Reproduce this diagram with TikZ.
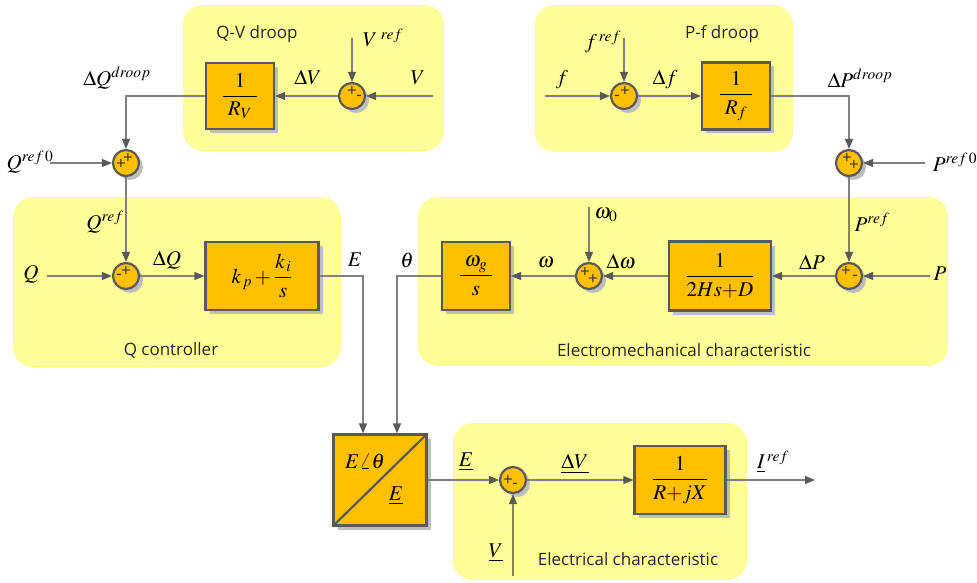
\documentclass[tikz,border=0pt]{standalone}
\usepackage{amsmath}
\usepackage{mathptmx}
\usepackage[no-math]{fontspec}
\setsansfont{Open Sans}
\usetikzlibrary{calc,arrows.meta,shadows}
\definecolor{grp}{RGB}{255,255,153}
\definecolor{blk}{RGB}{255,192,0}
\definecolor{bdr}{RGB}{89,89,89}
\definecolor{wire}{RGB}{128,128,128}
\definecolor{shd}{RGB}{190,190,190}
\tikzset{
  jgrp/.style={fill=grp,rounded corners=20pt},
  jblk/.style={draw=bdr,fill=blk,line width=2.2pt,inner sep=0pt,
    font=\fontsize{21}{23}\selectfont,
    drop shadow={shadow xshift=4pt,shadow yshift=-4pt,fill=shd,opacity=1}},
  jsum/.style={jblk,circle,minimum size=26pt},
  jsig/.style={wire,line width=1.4pt,-{Triangle[length=10pt,width=8pt,color=bdr]}},
  jlbl/.style={font=\fontsize{21}{23}\selectfont,inner sep=0pt},
  jsgn/.style={font=\sffamily\fontsize{17}{17}\selectfont,text=bdr!60!black,inner sep=0pt},
  jttl/.style={font=\sffamily\fontsize{17}{19}\selectfont,text=black!85,inner sep=0pt},
}

\begin{document}
\begin{tikzpicture}[x=1pt,y=-1pt]
  \useasboundingbox (0,0) rectangle (977,583);
  % groups
  \foreach \xa/\ya/\xb/\yb in {183/5/444/151,535/5/793/152,13/197/341/367,418/197/948/366,453/423/747/580}
    {\fill[jgrp] (\xa,\ya) rectangle (\xb,\yb);}
  \node[jttl] (tQV) at (257,34) {Q-V droop};
  \node[jttl] (tPf) at (722,34) {P-f droop};
  \node[jttl] (tQc) at (171,350) {Q controller};
  \node[jttl] (tEm) at (684,350) {Electromechanical characteristic};
  \node[jttl] (tEl) at (628,559) {Electrical characteristic};
  % blocks
  \node[jblk,minimum width=68,minimum height=66] (bRV) at (240,96) {$\dfrac{1}{\;R_V\;}$};
  \node[jblk,minimum width=68,minimum height=67] (bRf) at (736,96) {$\dfrac{1}{\;R_f\;}$};
  \node[jblk,minimum width=113,minimum height=68] (bPI) at (262,276) {$k_{\,p}+\dfrac{k_{\,i}}{s}$};
  \node[jblk,minimum width=68,minimum height=68] (bOm) at (476,276) {$\dfrac{\;\omega_g\;}{s}$};
  \node[jblk,minimum width=102,minimum height=69] (bIn) at (720,276) {$\dfrac{1}{2Hs{+}D}$};
  \node[jblk,minimum width=93,minimum height=91] (bPol) at (380,480) {\phantom{E}};
  \node[jblk,minimum width=91,minimum height=68] (bZ) at (680,480) {$\dfrac{1}{R{+}jX}$};
  \draw[bdr,line width=2.2pt] (bPol.south west) -- (bPol.north east);
  \node[jlbl] (lEth) at (365,461) {$E\angle\theta$};
  \node[jlbl] (lEp) at (396,496) {$\underline{E}$};
  % sums
  \node[jsum] (sV) at (352,96) {};
  \node[jsum] (sf) at (624,96) {};
  \node[jsum] (sQ0) at (126,163) {};
  \node[jsum] (sP0) at (849,163) {};
  \node[jsum] (sQ) at (126,276) {};
  \node[jsum] (sW) at (589,276) {};
  \node[jsum] (sP) at (849,276) {};
  \node[jsum] (sE) at (513,480) {};
  \foreach \s/\dx/\dy/\t in {sV/0/-5/+,sV/7/2/-,sf/1/-5/+,sf/-7/2/-,sQ0/2/-5/+,sQ0/-5/1/+,
      sP0/-2/-5/+,sP0/5/2/+,sQ/0/-5/+,sQ/-7/1/-,sW/-4/-4/+,sW/4/3/+,sP/-3/-5/+,sP/6/2/-,
      sE/-5/0/+,sE/2/6/-}
    {\node[jsgn] (g-\s-\dx) at ($(\s)+(\dx,\dy)$) {\t};}
  % free ends
  \coordinate (inV) at (433,96);
  \coordinate (inVr) at (352,38);
  \coordinate (inf) at (545,96);
  \coordinate (infr) at (624,38);
  \coordinate (inQ0) at (50,163);
  \coordinate (inP0) at (925,163);
  \coordinate (inQ) at (47,276);
  \coordinate (inW0) at (589,207);
  \coordinate (inP) at (930,276);
  \coordinate (inVb) at (513,576);
  \coordinate (outI) at (815,480);
  % connectors
  \draw[jsig] (inV) -- (sV);
  \draw[jsig] (inVr) -- (sV);
  \draw[jsig] (sV) -- (bRV);
  \draw[jsig] (bRV.west) -| (sQ0);
  \draw[jsig] (inQ0) -- (sQ0);
  \draw[jsig] (sQ0) -- (sQ);
  \draw[jsig] (inQ) -- (sQ);
  \draw[jsig] (sQ) -- (bPI);
  \draw[jsig] (inf) -- (sf);
  \draw[jsig] (infr) -- (sf);
  \draw[jsig] (sf) -- (bRf);
  \draw[jsig] (bRf.east) -| (sP0);
  \draw[jsig] (inP0) -- (sP0);
  \draw[jsig] (sP0) -- (sP);
  \draw[jsig] (inP) -- (sP);
  \draw[jsig] (sP) -- (bIn);
  \draw[jsig] (bIn) -- (sW);
  \draw[jsig] (inW0) -- (sW);
  \draw[jsig] (sW) -- (bOm);
  \draw[jsig] (bPI.east) -| ($(bPol.north)+(-17,0)$);
  \draw[jsig] (bOm.west) -| ($(bPol.north)+(17,0)$);
  \draw[jsig] (bPol) -- (sE);
  \draw[jsig] (inVb) -- (sE);
  \draw[jsig] (sE) -- (bZ);
  \draw[jsig] (bZ) -- (outI);
  % signal labels
  \node[jlbl] (lVr) at (383,38) {$V^{\;ref}$};
  \node[jlbl] (lV) at (418,78) {$V$};
  \node[jlbl] (ldV) at (308,78) {$\Delta V$};
  \node[jlbl] (ldQd) at (117,78) {$\Delta Q^{droop}$};
  \node[jlbl] (lQ0) at (30,162) {$Q^{ref\,0}$};
  \node[jlbl] (lQr) at (105,222) {$Q^{ref}$};
  \node[jlbl] (lQ) at (31,274) {$Q$};
  \node[jlbl] (ldQ) at (167,260) {$\Delta Q$};
  \node[jlbl] (lE) at (355,260) {$E$};
  \node[jlbl] (lth) at (407,260) {$\theta$};
  \node[jlbl] (lw) at (546,262) {$\omega$};
  \node[jlbl] (ldw) at (621,262) {$\Delta\omega$};
  \node[jlbl] (lw0) at (606,215) {$\omega_0$};
  \node[jlbl] (ldP) at (812,262) {$\Delta P$};
  \node[jlbl] (lPr) at (872,222) {$P^{ref}$};
  \node[jlbl] (lP) at (940,274) {$P$};
  \node[jlbl] (lfr) at (603,42) {$f^{\,ref}$};
  \node[jlbl] (lf) at (562,80) {$f$};
  \node[jlbl] (ldf) at (665,80) {$\Delta f$};
  \node[jlbl] (ldPd) at (860,78) {$\Delta P^{droop}$};
  \node[jlbl] (lP0) at (955,162) {$P^{ref\,0}$};
  \node[jlbl] (lEb) at (466,462) {$\underline{E}$};
  \node[jlbl] (ldVb) at (575,464) {$\underline{\Delta V}$};
  \node[jlbl] (lI) at (773,462) {$\underline{I}^{\,ref}$};
  \node[jlbl] (lVb) at (496,553) {$\underline{V}$};
\end{tikzpicture}
\end{document}
